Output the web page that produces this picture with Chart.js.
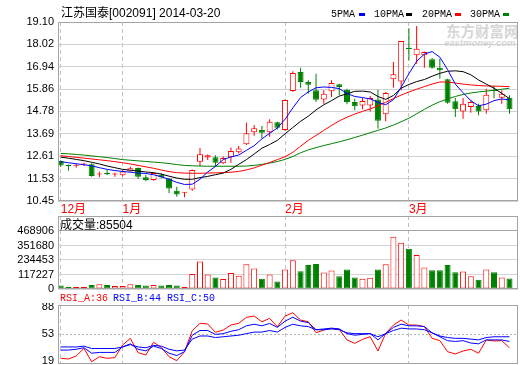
<!DOCTYPE html>
<html lang="zh">
<head>
<meta charset="UTF-8">
<title>江苏国泰 日K线</title>
<script src="https://cdn.jsdelivr.net/npm/chart.js@4"></script>
<style>
  body { margin: 0; width: 520px; height: 365px; position: relative; overflow: hidden; background: #fff;
         font-family: 'Liberation Sans', 'Noto Sans CJK SC', sans-serif; }
  canvas { position: absolute; left: 0; }
  .t { position: absolute; white-space: nowrap; font-size: 12px; line-height: 14px; color: #000; }
  .m { font-family: 'Liberation Mono', 'Noto Sans CJK SC', monospace; font-size: 10px; }
  .dash { position: absolute; width: 6px; height: 3px; }
  .wm { position: absolute; color: #d6d6d6; font-weight: bold; white-space: nowrap; }
</style>
</head>
<body>
<div class="wm" style="left:446px;top:20px;font-size:14.5px;font-family:'Noto Sans CJK SC'">东方财富网</div>
<div class="wm" style="left:444px;top:37px;font-size:9.5px;font-style:italic">eastmoney.com</div>

<canvas id="kline" width="520" height="216" style="top:0"></canvas>
<canvas id="vol" width="520" height="82" style="top:214px"></canvas>
<canvas id="rsi" width="520" height="62" style="top:303px"></canvas>

<div class="t" style="left:61px;top:6px">江苏国泰[002091] 2014-03-20</div>
<div class="t m" style="left:331px;top:8px">5PMA</div><div class="dash" style="left:359px;top:13px;background:#0000ff"></div>
<div class="t m" style="left:374px;top:8px">10PMA</div><div class="dash" style="left:406px;top:13px;background:#000"></div>
<div class="t m" style="left:422px;top:8px">20PMA</div><div class="dash" style="left:455px;top:13px;background:#ff0000"></div>
<div class="t m" style="left:470px;top:8px">30PMA</div><div class="dash" style="left:503px;top:13px;background:#008000"></div>

<div class="t" style="left:60px;top:218px">成交量:85504</div>

<div class="t m" style="left:60px;top:292px;color:#ff0000">RSI_A:36</div>
<div class="t m" style="left:113px;top:292px;color:#0000ff">RSI_B:44</div>
<div class="t m" style="left:167px;top:292px;color:#0000ff">RSI_C:50</div>

<script>
// daily K line, 2013-12-20 .. 2014-03-20 (59 sessions)
const opens  = [12.38,12.20,12.15,12.21,12.22,11.73,11.82,11.73,11.69,11.88,12.05,11.60,11.46,11.72,11.54,10.95,10.85,11.01,12.35,12.55,
                12.56,12.27,12.56,12.80,13.19,13.77,13.88,13.77,14.25,13.88,15.76,16.68,16.20,15.80,15.36,15.75,16.09,15.83,15.23,15.07,
                15.07,15.36,14.64,16.33,16.22,17.85,17.49,17.49,17.30,16.89,16.33,15.27,14.78,14.99,15.04,14.83,15.80,15.44,15.44];
const highs  = [12.42,12.21,12.25,12.30,12.27,11.87,11.95,11.82,11.93,12.11,12.07,11.72,11.82,11.79,11.55,11.14,10.87,11.97,13.01,12.70,
                12.66,12.60,13.04,13.11,14.23,14.12,14.07,14.40,14.28,15.35,16.72,16.89,16.28,16.60,15.80,16.28,16.12,15.88,15.39,15.43,
                15.52,15.83,15.72,17.17,18.18,18.80,18.91,17.67,17.36,17.33,16.36,15.43,15.43,15.32,15.15,15.88,16.02,15.80,15.56];
const lows   = [12.09,11.91,12.06,12.14,11.62,11.60,11.71,11.62,11.64,11.86,11.52,11.40,11.43,11.55,10.83,10.66,10.63,10.95,12.14,12.43,
                12.11,12.24,12.30,12.75,13.16,13.60,13.48,13.56,13.90,13.85,15.72,15.92,15.63,15.23,15.15,15.48,15.56,15.12,14.83,14.88,
                14.78,13.94,14.30,15.92,15.80,17.25,17.08,16.89,16.84,16.36,15.15,14.51,14.43,14.72,14.59,14.67,15.41,15.15,14.67];
const closes = [12.16,12.13,12.16,12.22,11.66,11.74,11.74,11.74,11.87,12.03,11.62,11.47,11.80,11.60,11.06,10.76,10.87,11.95,12.71,12.66,
                12.30,12.53,12.87,12.99,13.72,13.96,13.75,14.28,13.99,15.33,16.63,16.20,16.07,15.34,15.63,16.15,15.96,15.23,15.03,15.28,
                15.43,14.33,15.67,16.57,18.18,17.80,17.81,17.65,16.89,16.77,15.20,14.88,15.15,15.23,14.78,15.59,15.77,15.63,14.88];

// moving averages as drawn
const ma5  = [12.35,12.30,12.25,12.20,12.15,12.06,11.98,11.92,11.88,11.84,11.80,11.78,11.72,11.62,11.50,11.35,11.25,11.26,11.50,11.85,
              12.12,12.45,12.58,12.67,12.90,13.12,13.45,13.72,13.98,14.40,14.95,15.45,15.72,15.92,15.96,15.94,15.88,15.65,15.50,15.45,
              15.38,15.22,15.10,15.35,15.95,16.60,17.20,17.55,17.67,17.40,16.80,16.10,15.68,15.30,15.05,15.13,15.30,15.38,15.34];
const ma10 = [12.57,12.52,12.46,12.40,12.32,12.24,12.14,12.06,11.98,11.94,11.90,11.85,11.82,11.75,11.65,11.56,11.50,11.50,11.58,11.64,
              11.72,11.80,11.98,12.22,12.45,12.72,13.00,13.18,13.38,13.70,14.00,14.30,14.55,14.85,15.10,15.30,15.52,15.63,15.75,15.76,
              15.72,15.50,15.36,15.55,15.90,16.08,16.22,16.32,16.48,16.62,16.72,16.74,16.70,16.55,16.30,16.10,15.90,15.65,15.40];
const ma20 = [12.64,12.60,12.56,12.52,12.48,12.44,12.40,12.35,12.30,12.24,12.17,12.10,12.03,11.95,11.87,11.82,11.80,11.79,11.79,11.80,
              11.81,11.82,11.84,11.88,11.95,12.05,12.18,12.31,12.45,12.59,12.80,13.10,13.38,13.62,13.86,14.10,14.32,14.50,14.65,14.78,
              14.90,15.05,15.22,15.40,15.57,15.72,15.85,15.98,16.10,16.20,16.20,16.15,16.10,16.06,16.03,16.01,16.00,15.99,15.98];
const ma30 = [12.75,12.73,12.70,12.67,12.63,12.59,12.55,12.50,12.45,12.42,12.39,12.36,12.33,12.30,12.26,12.21,12.17,12.15,12.14,12.13,
              12.13,12.13,12.13,12.13,12.14,12.17,12.22,12.28,12.36,12.46,12.60,12.78,12.92,13.03,13.13,13.22,13.31,13.41,13.52,13.63,
              13.75,13.86,13.98,14.12,14.28,14.45,14.66,14.88,15.08,15.25,15.38,15.50,15.60,15.67,15.72,15.76,15.80,15.85,15.90];

const volumes = [27400,19100,16600,16600,33200,39000,33200,24900,24900,39000,33200,27400,33200,27400,33200,27400,16600,122000,221600,116200,
                 93800,80500,130300,107900,199200,166000,83000,116200,60600,157700,232400,143600,193400,201700,132800,149400,102100,157700,93800,83000,
                 91300,157700,199200,423300,373500,326200,273900,174300,151900,151900,193400,135300,141100,102100,74700,157700,135300,93800,85504];

const rsiA = [22.5,21.6,25.4,35.2,18.1,24.5,22.5,23.3,39.5,48.0,29.7,26.7,42.9,36.5,24.5,19.4,30.9,57.7,67.2,66.3,
              55.7,58.6,65.0,67.2,74.8,76.5,69.2,73.5,62.9,76.5,80.7,71.4,69.2,55.2,58.6,60.8,59.5,45.9,41.6,46.7,
              50.1,31.8,54.4,65.0,71.4,65.0,65.0,62.9,48.0,45.0,30.9,28.0,31.8,34.0,28.9,45.9,44.6,45.0,36];
const rsiB = [33,33,34,36,29,30,30,30,37,41,34,32,38,35,29,26,31,52,58,58,
              53,54,57,59,64,66,64,67,62,70,75,70,68,59,60,61,60,54,52,53,
              54,46,54,62,66,64,64,63,55,50,45,44,45,42,41,46,46,46,44];
const rsiC = [37,37,37,38,35,35,35,35,37,40,37,36,39,38,34,32,33,47,51,51,
              49,50,51,52,54,56,56,58,56,62,66,64,63,59,59,60,59,55,54,54,
              54,50,54,58,61,60,60,59,55,51,49,48,48,47,46,49,50,50,50];

const priceTicks = [10.45, 11.53, 12.61, 13.69, 14.78, 15.86, 16.94, 18.02, 19.10];
const volTicks = [0, 117227, 234453, 351680, 468906];
const rsiTicks = [19, 53, 88];
const monthTicks = [0, 8, 29, 45];
const monthLabels = ['12月', '1月', '2月', '3月'];

const RED = '#ff0000', GREEN = '#008000', BLUE = '#0000ff';
const up = closes.map((c, i) => c >= opens[i]);
const pts = arr => arr.map((v, i) => ({ x: i, y: v }));
const tickFont = { family: 'Liberation Sans', size: 11 };

// box round each plot area
const frame = {
    id: 'frame',
    afterDraw(chart) {
        const { ctx, chartArea: a } = chart;
        ctx.save();
        ctx.strokeStyle = '#a4a4a4';
        ctx.lineWidth = 1;
        ctx.strokeRect(Math.round(a.left) + 0.5, Math.round(a.top) + 0.5,
            Math.round(a.right - a.left) - 1, Math.round(a.bottom - a.top) - 1);
        ctx.restore();
    }
};

function xScale(showLabels) {
    return {
        type: 'linear', min: -0.35, max: 59.1, bounds: 'data', offset: false,
        afterBuildTicks: a => { a.ticks = monthTicks.map(v => ({ value: v })); },
        afterFit: a => { a.height = showLabels ? 15 : 0; a.paddingLeft = 0; a.paddingRight = 0; },
        grid: { offset: false, drawTicks: false, color: '#c0c0c0' },
        border: { display: false, dash: [4, 3] },
        ticks: {
            display: showLabels, autoSkip: false, maxRotation: 0, align: 'start', padding: 1,
            color: RED, font: { family: "'Liberation Sans', 'Noto Sans CJK SC'", size: 12 },
            callback: (v, i) => monthLabels[i]
        }
    };
}

function yScale(min, max, ticks, label, gridColor, dash) {
    return {
        min, max, bounds: 'data',
        afterBuildTicks: a => { a.ticks = ticks.map(v => ({ value: v })); },
        afterFit: a => { a.width = 58; a.paddingTop = 0; a.paddingBottom = 0; },
        grid: { drawTicks: false, color: gridColor },
        border: { display: false, dash },
        ticks: { padding: 4, color: '#000', font: tickFont, callback: label }
    };
}

const common = {
    responsive: false,
    animation: false,
    events: [],
    plugins: { legend: { display: false }, tooltip: { enabled: false } },
    elements: {
        point: { radius: 0 },
        line: { borderWidth: 1, tension: 0 },
        bar: { inflateAmount: 0 }
    }
};

// price panel
new Chart(document.getElementById('kline'), {
    type: 'bar',
    data: {
        datasets: [
            { type: 'line', data: pts(ma5), borderColor: BLUE, order: 0 },
            { type: 'line', data: pts(ma10), borderColor: '#000', order: 0 },
            { type: 'line', data: pts(ma20), borderColor: RED, order: 0 },
            { type: 'line', data: pts(ma30), borderColor: GREEN, order: 0 },
            {
                data: closes.map((c, i) => ({ x: i, y: [opens[i], c] })),
                backgroundColor: up.map(u => u ? '#fff' : GREEN),
                borderColor: up.map(u => u ? RED : GREEN),
                borderWidth: 1, borderSkipped: false, barThickness: 6, minBarLength: 1,
                grouped: false, order: 1
            },
            {
                data: lows.map((l, i) => ({ x: i, y: [l, highs[i]] })),
                backgroundColor: up.map(u => u ? RED : GREEN),
                barThickness: 1, grouped: false, order: 2
            }
        ]
    },
    options: {
        ...common,
        layout: { padding: { top: 22, right: 2, bottom: 0, left: 0 } },
        scales: {
            x: xScale(true),
            y: yScale(10.45, 19.10, priceTicks, (v, i) => priceTicks[i].toFixed(2), '#d0d0d0', [])
        }
    },
    plugins: [frame]
});

// volume panel
new Chart(document.getElementById('vol'), {
    type: 'bar',
    data: {
        datasets: [{
            data: pts(volumes),
            backgroundColor: up.map(u => u ? '#fff' : GREEN),
            borderColor: up.map(u => u ? RED : GREEN),
            borderWidth: 1, borderSkipped: false, barThickness: 6
        }]
    },
    options: {
        ...common,
        layout: { padding: { top: 2, right: 2, bottom: 7, left: 0 } },
        scales: {
            x: xScale(false),
            y: yScale(0, 590000, volTicks, (v, i) => String(volTicks[i]),
                ctx => ctx.index === volTicks.length - 1 ? '#a4a4a4' : '#d4d4d4', [])
        }
    },
    plugins: [frame]
});

// RSI panel
new Chart(document.getElementById('rsi'), {
    type: 'line',
    data: {
        datasets: [
            { data: pts(rsiC), borderColor: BLUE },
            { data: pts(rsiB), borderColor: BLUE },
            { data: pts(rsiA), borderColor: RED }
        ]
    },
    options: {
        ...common,
        layout: { padding: { top: 2, right: 2, bottom: 1, left: 0 } },
        scales: {
            x: xScale(false),
            y: yScale(15.2, 90.6, rsiTicks, (v, i) => String(rsiTicks[i]),
                ctx => ctx.index === 1 ? '#b4b4b4' : 'rgba(0,0,0,0)', [2, 2])
        }
    },
    plugins: [frame]
});
</script>
</body>
</html>
